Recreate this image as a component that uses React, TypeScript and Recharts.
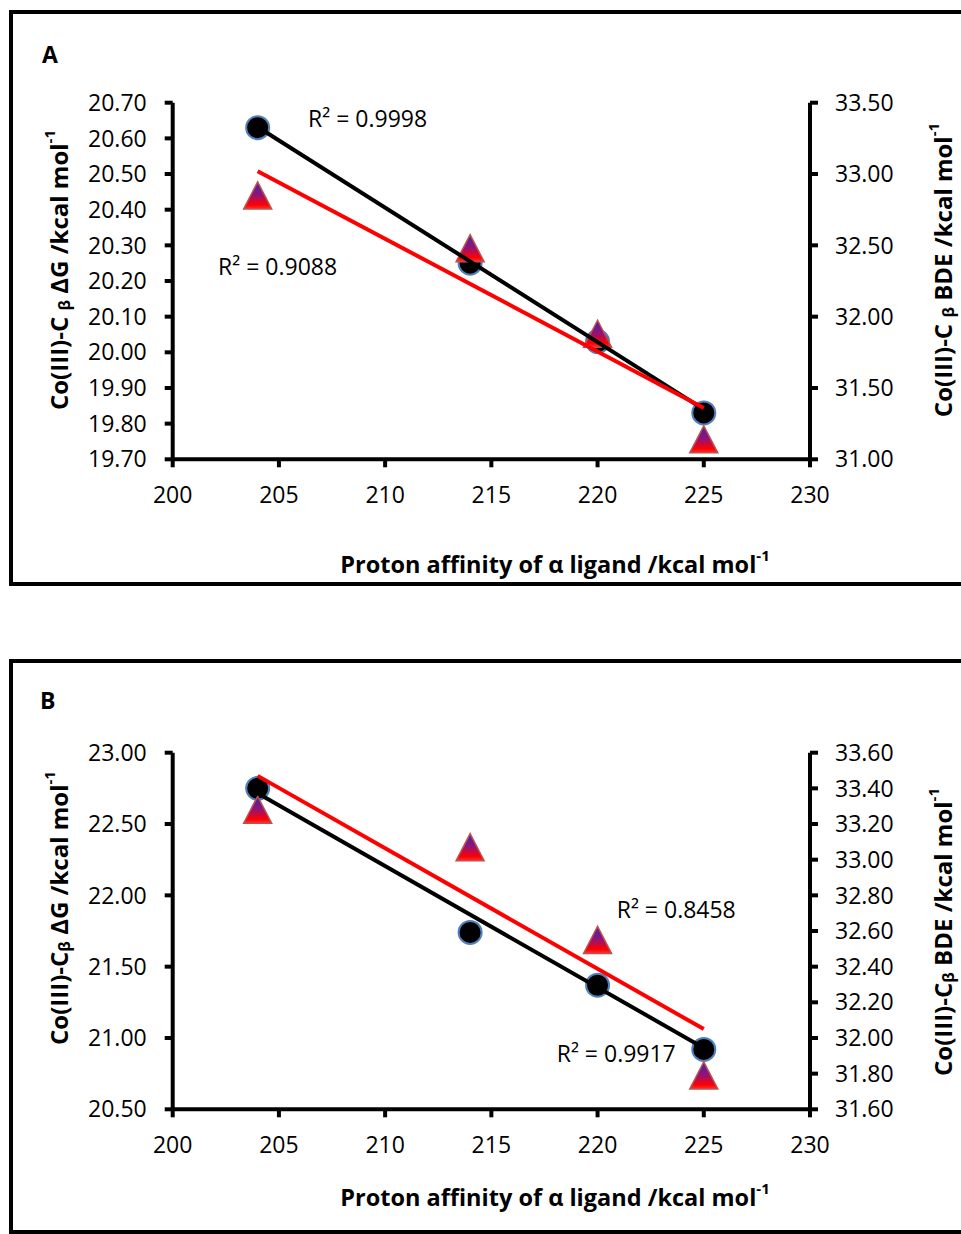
import React from 'react';
import { ScatterChart, Scatter, XAxis, YAxis } from 'recharts';

// proton affinity of the alpha ligand (x values, both panels)
const affinity = [204, 214, 220, 225];
const fitEnds = [204, 225];
const xTicks = [200, 205, 210, 215, 220, 225, 230];

// panel A
const aDeltaG = [20.63, 20.25, 20.03, 19.83];
const aBDE = [32.85, 32.48, 31.88, 31.14];
const aDeltaGFit = [20.632, 19.84];
const aBDEFit = [33.02, 31.36];
const aLeftTicks = [19.7, 19.8, 19.9, 20.0, 20.1, 20.2, 20.3, 20.4, 20.5, 20.6, 20.7];
const aRightTicks = [31.0, 31.5, 32.0, 32.5, 33.0, 33.5];

// panel B
const bDeltaG = [22.75, 21.74, 21.37, 20.92];
const bBDE = [33.28, 33.07, 32.55, 31.79];
const bDeltaGFit = [22.715, 20.93];
const bBDEFit = [33.47, 32.05];
const bLeftTicks = [20.5, 21.0, 21.5, 22.0, 22.5, 23.0];
const bRightTicks = [31.6, 31.8, 32.0, 32.2, 32.4, 32.6, 32.8, 33.0, 33.2, 33.4, 33.6];

const FONT = '"Open Sans", sans-serif';

const toPoints = (xs: number[], ys: number[]) => xs.map((x, i) => ({ x, y: ys[i] }));

const Circle = (props: any) => {
  const { cx, cy } = props;
  if (cx == null || cy == null) return <g />;
  return <circle cx={cx} cy={cy} r={11.5} fill="#000" stroke="#4f81bd" strokeWidth={2} />;
};

const Triangle = (props: any) => {
  const { cx, cy } = props;
  if (cx == null || cy == null) return <g />;
  const d = `M${cx},${cy - 13.5} L${cx + 14},${cy + 13.5} L${cx - 14},${cy + 13.5} Z`;
  return <path d={d} fill="url(#triFill)" stroke="#c0504d" strokeWidth={1.5} />;
};

const NoDot = () => <g />;

const axisLine = { stroke: '#000', strokeWidth: 4 };
const tickStyle = { fill: '#000', fontSize: 23, fontFamily: FONT };

interface TitleProps {
  x: number;
  y: number;
  rotate?: boolean;
  size: number;
  children: React.ReactNode;
}

const Title = ({ x, y, rotate, size, children }: TitleProps) => (
  <text
    x={x}
    y={y}
    transform={rotate ? `rotate(-90 ${x} ${y})` : undefined}
    textAnchor="middle"
    dominantBaseline="central"
    fontFamily={FONT}
    fontWeight="bold"
    fontSize={size}
    fill="#000"
  >
    {children}
  </text>
);

const Note = ({ x, y, text }: { x: number; y: number; text: string }) => (
  <text x={x} y={y} fontFamily={FONT} fontSize={23} fill="#000">
    {text}
  </text>
);

interface PanelProps {
  top: number;
  letter: string;
  letterPos: [number, number];
  deltaG: number[];
  bde: number[];
  deltaGFit: number[];
  bdeFit: number[];
  leftTicks: number[];
  rightTicks: number[];
  leftTitleY: number;
  rightTitleY: number;
  xTitleY: number;
  betaGap: string;
  notes: { x: number; y: number; text: string }[];
}

const Panel = (p: PanelProps) => {
  const left = p.leftTicks;
  const right = p.rightTicks;
  return (
    <div style={{ position: 'absolute', left: 0, top: p.top }}>
      <ScatterChart
        width={961}
        height={584}
        margin={{ top: 102.7, right: 0, bottom: 94.7, left: 0 }}
      >
        <XAxis
          type="number"
          dataKey="x"
          domain={[200, 230]}
          ticks={xTicks}
          interval={0}
          allowDataOverflow
          height={30}
          axisLine={axisLine}
          tickLine={axisLine}
          tickSize={8}
          tickMargin={19}
          tick={tickStyle}
        />
        <YAxis
          yAxisId="left"
          type="number"
          dataKey="y"
          domain={[left[0], left[left.length - 1]]}
          ticks={left}
          interval={0}
          allowDataOverflow
          width={172.7}
          axisLine={axisLine}
          tickLine={axisLine}
          tickSize={8}
          tickMargin={18}
          tick={tickStyle}
          tickFormatter={(v: number) => v.toFixed(2)}
        />
        <YAxis
          yAxisId="right"
          orientation="right"
          type="number"
          dataKey="y"
          domain={[right[0], right[right.length - 1]]}
          ticks={right}
          interval={0}
          allowDataOverflow
          width={151}
          axisLine={axisLine}
          tickLine={axisLine}
          tickSize={8}
          tickMargin={17}
          tick={tickStyle}
          tickFormatter={(v: number) => v.toFixed(2)}
        />
        <Scatter
          yAxisId="left"
          data={toPoints(affinity, p.deltaG)}
          shape={Circle}
          isAnimationActive={false}
        />
        <Scatter
          yAxisId="right"
          data={toPoints(affinity, p.bde)}
          shape={Triangle}
          isAnimationActive={false}
        />
        <Scatter
          yAxisId="left"
          data={toPoints(fitEnds, p.deltaGFit)}
          shape={NoDot}
          line={{ stroke: '#000', strokeWidth: 4 }}
          isAnimationActive={false}
        />
        <Scatter
          yAxisId="right"
          data={toPoints(fitEnds, p.bdeFit)}
          shape={NoDot}
          line={{ stroke: '#ff0000', strokeWidth: 4 }}
          isAnimationActive={false}
        />
        <text
          x={p.letterPos[0]}
          y={p.letterPos[1]}
          fontFamily={FONT}
          fontWeight="bold"
          fontSize={23}
          fill="#000"
        >
          {p.letter}
        </text>
        <Title x={58} y={p.leftTitleY} rotate size={24}>
          Co(III)-C{p.betaGap}
          <tspan fontSize={16} dy={6}>β</tspan>
          <tspan dy={-6}> ΔG /kcal mol</tspan>
          <tspan fontSize={15} dy={-9}>-1</tspan>
        </Title>
        <Title x={942} y={p.rightTitleY} rotate size={24}>
          Co(III)-C{p.betaGap}
          <tspan fontSize={16} dy={6}>β</tspan>
          <tspan dy={-6}> BDE /kcal mol</tspan>
          <tspan fontSize={15} dy={-9}>-1</tspan>
        </Title>
        <Title x={555} y={p.xTitleY} size={23.5}>
          Proton affinity of α ligand /kcal mol
          <tspan fontSize={15} dy={-9}>-1</tspan>
        </Title>
        {p.notes.map((n) => (
          <Note key={n.text} x={n.x} y={n.y} text={n.text} />
        ))}
      </ScatterChart>
    </div>
  );
};

export default function App() {
  return (
    <div
      style={{
        position: 'absolute',
        left: 0,
        top: 0,
        width: 961,
        height: 1234,
        overflow: 'hidden',
        background: '#fff',
      }}
    >
      <svg width={0} height={0} style={{ position: 'absolute' }}>
        <defs>
          <linearGradient id="triFill" x1="0" y1="0" x2="0" y2="1">
            <stop offset="0%" stopColor="#3d2a9c" />
            <stop offset="45%" stopColor="#8a1480" />
            <stop offset="85%" stopColor="#ff0000" />
            <stop offset="100%" stopColor="#ff3030" />
          </linearGradient>
        </defs>
      </svg>
      <div
        style={{
          position: 'absolute',
          left: 9,
          top: 10,
          width: 970,
          height: 576,
          border: '4px solid #000',
          boxSizing: 'border-box',
        }}
      />
      <div
        style={{
          position: 'absolute',
          left: 9,
          top: 659,
          width: 970,
          height: 575,
          border: '4px solid #000',
          boxSizing: 'border-box',
        }}
      />
      <Panel
        top={0}
        letter="A"
        letterPos={[42, 62.7]}
        deltaG={aDeltaG}
        bde={aBDE}
        deltaGFit={aDeltaGFit}
        bdeFit={aBDEFit}
        leftTicks={aLeftTicks}
        rightTicks={aRightTicks}
        leftTitleY={270}
        rightTitleY={270}
        xTitleY={564}
        betaGap=" "
        notes={[
          { x: 308, y: 127.3, text: 'R² = 0.9998' },
          { x: 218, y: 275, text: 'R² = 0.9088' },
        ]}
      />
      <Panel
        top={650}
        letter="B"
        letterPos={[40, 59]}
        deltaG={bDeltaG}
        bde={bBDE}
        deltaGFit={bDeltaGFit}
        bdeFit={bBDEFit}
        leftTicks={bLeftTicks}
        rightTicks={bRightTicks}
        leftTitleY={258}
        rightTitleY={282}
        xTitleY={547}
        betaGap=""
        notes={[
          { x: 616.7, y: 268.3, text: 'R² = 0.8458' },
          { x: 556.7, y: 411.7, text: 'R² = 0.9917' },
        ]}
      />
    </div>
  );
}
